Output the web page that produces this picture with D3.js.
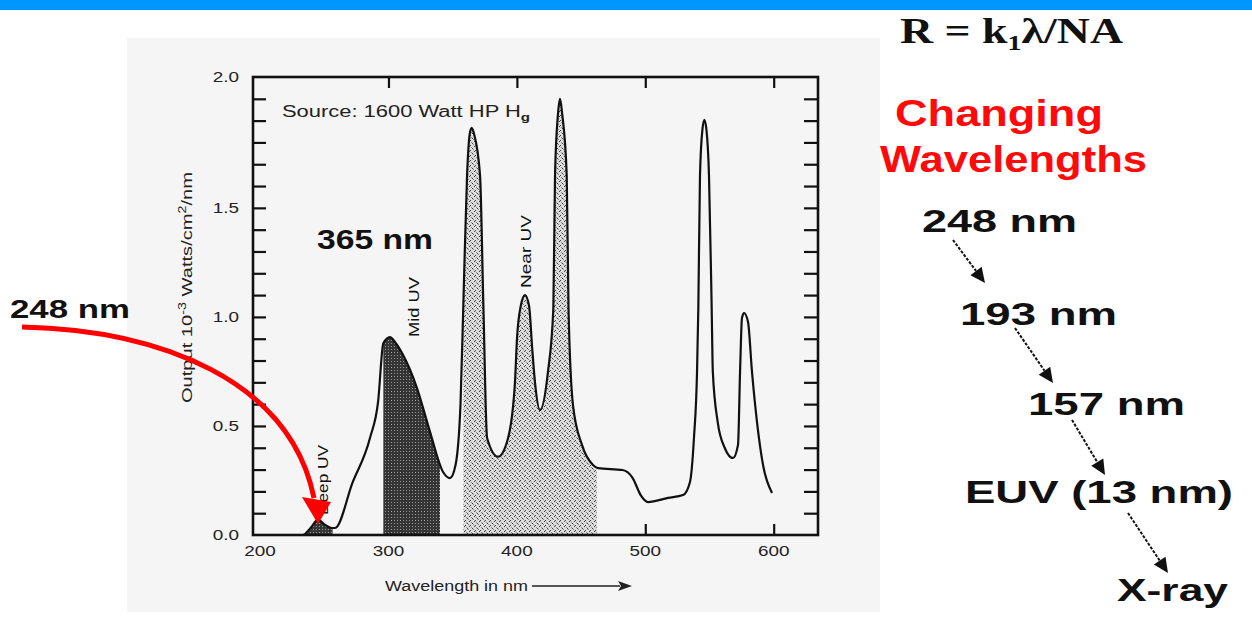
<!DOCTYPE html>
<html>
<head>
<meta charset="utf-8">
<script src="https://cdn.jsdelivr.net/npm/d3@7"></script>
<style>
  html, body { margin: 0; padding: 0; background: #fff; }
  svg { display: block; font-family: "Liberation Sans", Arial, sans-serif; }
</style>
</head>
<body>
<div id="chart"></div>
<script>
// spectrum (nm, output 10^-3 W/cm2/nm)
var wavelengths = [194.5, 233.4, 239, 245.1, 251, 256, 258.4, 272, 285.6, 291.9, 296.0, 301.2, 305, 311.3,
    322.2, 332.4, 342.5, 347.9, 352.2, 356.1, 358.3, 361.2, 363.3, 364.8, 366.6, 371.3, 373.9, 376.8, 385.3,
    393.1, 398.5, 400.1, 403, 406.3, 409.5, 412, 414.1, 418.0, 424.2, 428.4, 429.7, 432, 433.6, 435.3, 438.8,
    440.2, 443.7, 450.7, 459.3, 463.2, 482.4, 490.2, 496.4, 502.1, 517.7, 529.4, 534.8, 537.9, 540.3, 541.3,
    542.6, 544.5, 546.0, 547.6, 549.6, 551.7, 552.6, 556.4, 561.9, 568.3, 572.2, 573.8, 575.3, 576.9, 580.0,
    583.1, 587.0, 591.7, 598.7];
var output = [0.0, 0.0, 0.03, 0.069, 0.045, 0.032, 0.032, 0.24, 0.445, 0.61, 0.879, 0.907, 0.885, 0.826,
    0.674, 0.472, 0.289, 0.261, 0.32, 0.6, 1.055, 1.65, 1.84, 1.867, 1.84, 1.65, 1.055, 0.445, 0.359,
    0.444, 0.70, 0.902, 1.05, 1.10, 1.05, 0.85, 0.70, 0.573, 0.748, 1.04, 1.65, 1.93, 2.0, 1.93, 1.65,
    1.04, 0.596, 0.413, 0.321, 0.307, 0.298, 0.261, 0.183, 0.151, 0.17, 0.183, 0.243, 0.445, 0.748, 1.04,
    1.65, 1.86, 1.904, 1.86, 1.65, 1.04, 0.748, 0.518, 0.399, 0.353, 0.413, 0.748, 0.995, 1.018, 0.977,
    0.748, 0.518, 0.321, 0.193];

// shaded bands (nm)
var bandNames = ["Deep UV", "Mid UV", "Near UV"];
var bandStart = [233.4, 296.0, 358.3];
var bandEnd = [256.5, 340.1, 462.4];

var xTicks = [200, 300, 400, 500, 600];
var yMinor = d3.range(1, 21).map(function(i) { return i / 10; });
var yLabels = ["0.0", "0.5", "1.0", "1.5", "2.0"];
var yLabelValues = [0, 0.5, 1.0, 1.5];

var steps = ["248 nm", "193 nm", "157 nm", "EUV (13 nm)", "X-ray"];

var W = 1252, H = 619;

var svg = d3.select("#chart").append("svg")
    .attr("width", W)
    .attr("height", H);

var defs = svg.append("defs");

// dark stipple (Mid UV / Deep UV)
var pd = defs.append("pattern").attr("id", "darkDots")
    .attr("patternUnits", "userSpaceOnUse").attr("width", 3).attr("height", 3);
pd.append("rect").attr("width", 3).attr("height", 3).attr("fill", "#353535");
pd.append("rect").attr("x", 1).attr("y", 1).attr("width", 1).attr("height", 1).attr("fill", "#9a9a9a");

// light speckle (Near UV)
var pl = defs.append("pattern").attr("id", "lightDots")
    .attr("patternUnits", "userSpaceOnUse").attr("width", 5).attr("height", 5);
pl.append("rect").attr("width", 5).attr("height", 5).attr("fill", "#dcdcdc");
[[0, 0], [2, 3], [4, 1], [1, 2], [3, 4]].forEach(function(p, i) {
    pl.append("rect").attr("x", p[0]).attr("y", p[1]).attr("width", 1).attr("height", 1)
        .attr("fill", i < 3 ? "#3c3c3c" : "#888");
});

// top blue bar
svg.append("rect").attr("x", 0).attr("y", 0).attr("width", W).attr("height", 10).attr("fill", "#0096ff");

// faint grey of the scanned figure
svg.append("rect").attr("x", 127).attr("y", 38).attr("width", 753).attr("height", 574).attr("fill", "#f5f5f5");

var x = d3.scaleLinear().domain([194.5, 634.5]).range([253, 818]);
var y = d3.scaleLinear().domain([0, 2.1]).range([535, 77]);

var pts = wavelengths.map(function(w, i) { return [w, output[i]]; });

var area = d3.area()
    .x(function(d) { return x(d[0]); })
    .y0(y(0))
    .y1(function(d) { return y(d[1]); })
    .curve(d3.curveMonotoneX);

var line = d3.line()
    .x(function(d) { return x(d[0]); })
    .y(function(d) { return y(d[1]); })
    .curve(d3.curveMonotoneX);

var plot = svg.append("g");

// ticks (inward on every side)
plot.append("g").attr("transform", "translate(0," + y(0) + ")")
    .call(d3.axisTop(x).tickValues(xTicks.slice(1)).tickSize(11).tickFormat(""));
plot.append("g").attr("transform", "translate(0," + y(2.1) + ")")
    .call(d3.axisBottom(x).tickValues(xTicks.slice(1)).tickSize(11).tickFormat(""));
plot.append("g").attr("transform", "translate(" + x(194.5) + ",0)")
    .call(d3.axisRight(y).tickValues(yMinor).tickSize(13).tickFormat(""));
plot.append("g").attr("transform", "translate(" + x(634.5) + ",0)")
    .call(d3.axisLeft(y).tickValues(yMinor).tickSize(14).tickFormat(""));
plot.selectAll(".domain").remove();
plot.selectAll(".tick line").attr("stroke", "#111").attr("stroke-width", 2.2);

// shaded bands, clipped from the full area
bandNames.forEach(function(name, i) {
    var id = "clip" + i;
    defs.append("clipPath").attr("id", id).append("rect")
        .attr("x", x(bandStart[i])).attr("y", 70)
        .attr("width", x(bandEnd[i]) - x(bandStart[i])).attr("height", 470);
    plot.append("path").datum(pts)
        .attr("d", area)
        .attr("clip-path", "url(#" + id + ")")
        .attr("fill", i === 2 ? "url(#lightDots)" : "url(#darkDots)");
});

plot.append("path").datum(pts)
    .attr("d", line)
    .attr("fill", "none")
    .attr("stroke", "#111")
    .attr("stroke-width", 2.2);

// frame
plot.append("rect")
    .attr("x", x(194.5)).attr("y", y(2.1))
    .attr("width", x(634.5) - x(194.5)).attr("height", y(0) - y(2.1))
    .attr("fill", "none").attr("stroke", "#111").attr("stroke-width", 2.6);

// tick labels (scan is stretched sideways)
yLabels.forEach(function(t, i) {
    var v = i < yLabelValues.length ? yLabelValues[i] : y.domain()[1];
    plot.append("text")
        .attr("transform", "translate(239," + y(v) + ") scale(1.35,1)")
        .attr("dy", "0.35em")
        .attr("text-anchor", "end")
        .attr("font-size", 14)
        .attr("fill", "#222")
        .text(t);
});
xTicks.forEach(function(t) {
    plot.append("text")
        .attr("transform", "translate(" + x(t) + ",556) scale(1.35,1)")
        .attr("text-anchor", "middle")
        .attr("font-size", 14)
        .attr("fill", "#222")
        .text(t);
});

// axis titles
var yt = plot.append("text")
    .attr("transform", "translate(192,403) rotate(-90)")
    .attr("font-size", 14)
    .attr("fill", "#222")
    .attr("textLength", 231)
    .attr("lengthAdjust", "spacingAndGlyphs");
yt.append("tspan").text("Output 10");
yt.append("tspan").attr("dy", -6).attr("font-size", 10).text("-3");
yt.append("tspan").attr("dy", 6).text(" Watts/cm");
yt.append("tspan").attr("dy", -6).attr("font-size", 10).text("2");
yt.append("tspan").attr("dy", 6).text("/nm");

plot.append("text")
    .attr("x", 385).attr("y", 591)
    .attr("font-size", 14)
    .attr("fill", "#222")
    .attr("textLength", 143)
    .attr("lengthAdjust", "spacingAndGlyphs")
    .text("Wavelength in nm");
plot.append("line").attr("x1", 532).attr("y1", 586).attr("x2", 620).attr("y2", 586)
    .attr("stroke", "#222").attr("stroke-width", 1.5);
plot.append("path").attr("d", "M632,586 L618,581 L621,586 L618,591 Z").attr("fill", "#222");

// in-plot annotations
var src = plot.append("text")
    .attr("x", 282).attr("y", 117)
    .attr("font-size", 16)
    .attr("fill", "#222")
    .attr("textLength", 248)
    .attr("lengthAdjust", "spacingAndGlyphs");
src.append("tspan").text("Source: 1600 Watt HP H");
src.append("tspan").attr("dy", 4).attr("font-size", 11).attr("font-weight", "bold").text("g");

plot.append("text")
    .attr("x", 317).attr("y", 249)
    .attr("font-size", 28).attr("font-weight", "bold")
    .attr("fill", "#111")
    .attr("textLength", 116)
    .attr("lengthAdjust", "spacingAndGlyphs")
    .text("365 nm");

var bandLabelPos = [[328, 515, 70], [419, 337, 60], [531, 288, 73]];
bandNames.forEach(function(name, i) {
    var p = bandLabelPos[i];
    plot.append("text")
        .attr("transform", "translate(" + p[0] + "," + p[1] + ") rotate(-90)")
        .attr("font-size", 14)
        .attr("fill", "#111")
        .attr("textLength", p[2])
        .attr("lengthAdjust", "spacingAndGlyphs")
        .text(name);
});

// red pointer to deep UV
svg.append("text")
    .attr("x", 10).attr("y", 318)
    .attr("font-size", 25).attr("font-weight", "bold")
    .attr("fill", "#111")
    .attr("textLength", 120)
    .attr("lengthAdjust", "spacingAndGlyphs")
    .text("248 nm");
svg.append("path")
    .attr("d", "M22,327 C160,330 290,380 314,498")
    .attr("fill", "none").attr("stroke", "#ff0000").attr("stroke-width", 5);
svg.append("path")
    .attr("d", "M302,497 L331,502 L318,524 Z")
    .attr("fill", "#ff0000");

// right-hand panel
var formula = svg.append("text")
    .attr("x", 900).attr("y", 43)
    .attr("font-family", "'Liberation Serif', 'Times New Roman', serif")
    .attr("font-size", 36).attr("font-weight", "bold")
    .attr("fill", "#111")
    .attr("textLength", 223)
    .attr("lengthAdjust", "spacingAndGlyphs");
formula.append("tspan").text("R = k");
formula.append("tspan").attr("dy", 7).attr("font-size", 22).text("1");
formula.append("tspan").attr("dy", -7).text("λ/NA");

[["Changing", 895, 126, 208], ["Wavelengths", 880, 172, 267]].forEach(function(r) {
    svg.append("text")
        .attr("x", r[1]).attr("y", r[2])
        .attr("font-size", 36).attr("font-weight", "bold")
        .attr("fill", "#ff0a0a")
        .attr("textLength", r[3])
        .attr("lengthAdjust", "spacingAndGlyphs")
        .text(r[0]);
});

var stepPos = [[922, 232, 155], [960, 325, 157], [1028, 415, 157], [965, 503, 268], [1117, 601, 111]];
steps.forEach(function(s, i) {
    var p = stepPos[i];
    svg.append("text")
        .attr("x", p[0]).attr("y", p[1])
        .attr("font-size", 32).attr("font-weight", "bold")
        .attr("fill", "#111")
        .attr("textLength", p[2])
        .attr("lengthAdjust", "spacingAndGlyphs")
        .text(s);
});

var stepArrows = [[953, 240, 985, 283], [1015, 328, 1053, 383], [1072, 420, 1105, 475], [1128, 513, 1168, 573]];
stepArrows.forEach(function(a) {
    var ang = Math.atan2(a[3] - a[1], a[2] - a[0]);
    var hl = 15, hw = 7;
    var bx = a[2] - hl * Math.cos(ang), by = a[3] - hl * Math.sin(ang);
    svg.append("line")
        .attr("x1", a[0]).attr("y1", a[1]).attr("x2", bx).attr("y2", by)
        .attr("stroke", "#111").attr("stroke-width", 2)
        .attr("stroke-dasharray", "3,1.5");
    svg.append("path")
        .attr("d", "M" + a[2] + "," + a[3] +
            " L" + (bx + hw * Math.sin(ang)) + "," + (by - hw * Math.cos(ang)) +
            " L" + (bx - hw * Math.sin(ang)) + "," + (by + hw * Math.cos(ang)) + " Z")
        .attr("fill", "#111");
});
</script>
</body>
</html>
